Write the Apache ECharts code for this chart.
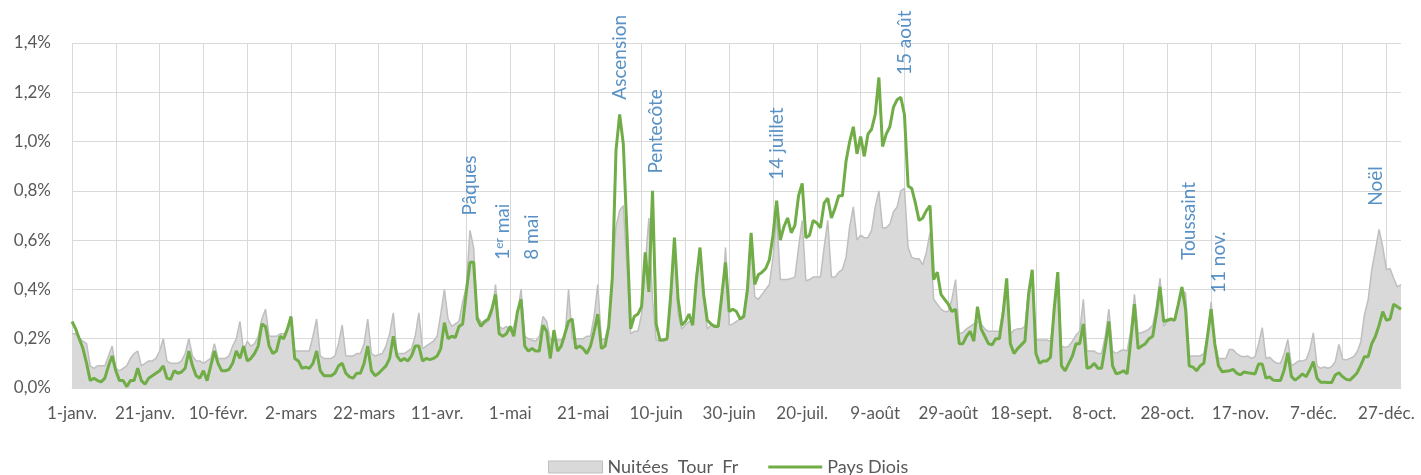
<!DOCTYPE html>
<html>
<head>
<meta charset="utf-8">
<script src="https://cdn.jsdelivr.net/npm/echarts@6/dist/echarts.min.js"></script>
<style>
  html, body { margin: 0; padding: 0; background: #fff; }
  #chart { width: 1421px; height: 475px; }
</style>
</head>
<body>
<div id="chart"></div>
<script>
// one label every 20 days, starting on 1 January
const tickLabels = ['1-janv.', '21-janv.', '10-févr.', '2-mars', '22-mars', '11-avr.', '1-mai',
  '21-mai', '10-juin', '30-juin', '20-juil.', '9-août', '29-août', '18-sept.', '8-oct.',
  '28-oct.', '17-nov.', '7-déc.', '27-déc.'];

// daily share of the year's nights, in %
const nuitees = [
  .22, .22, .20, .19, .18, .09, .08, .09, .09, .09,
  .13, .17, .08, .07, .08, .09, .12, .14, .15, .09,
  .10, .11, .11, .12, .15, .20, .11, .10, .10, .10,
  .11, .14, .20, .13, .11, .11, .10, .11, .12, .18,
  .12, .12, .12, .13, .17, .20, .27, .15, .19, .17,
  .18, .21, .28, .32, .21, .21, .21, .22, .22, .23,
  .29, .15, .15, .15, .15, .15, .21, .28, .13, .12,
  .12, .12, .13, .18, .255, .13, .13, .13, .14, .14,
  .18, .28, .14, .13, .135, .14, .17, .22, .305, .14,
  .14, .14, .15, .16, .21, .305, .16, .17, .18, .19,
  .21, .30, .40, .28, .25, .26, .27, .35, .41, .64,
  .57, .29, .27, .26, .27, .30, .42, .25, .24, .25,
  .23, .25, .30, .40, .21, .20, .195, .19, .21, .29,
  .27, .195, .195, .195, .195, .20, .40, .20, .20, .20,
  .20, .21, .21, .29, .42, .195, .20, .255, .46, .655,
  .72, .74, .49, .22, .23, .23, .30, .50, .69, .36,
  .195, .19, .19, .195, .33, .59, .30, .24, .255, .27,
  .27, .46, .55, .36, .24, .255, .255, .255, .36, .57,
  .255, .26, .27, .28, .30, .42, .60, .37, .36, .38,
  .40, .42, .53, .70, .44, .44, .44, .445, .45, .57,
  .68, .435, .44, .45, .45, .45, .57, .68, .45, .45,
  .47, .48, .53, .655, .735, .60, .62, .61, .61, .64,
  .735, .80, .65, .65, .665, .715, .735, .80, .81, .57,
  .53, .525, .525, .50, .55, .63, .36, .34, .32, .31,
  .31, .36, .44, .22, .225, .24, .25, .26, .27, .26,
  .24, .23, .23, .23, .23, .32, .42, .22, .235, .24,
  .24, .25, .40, .47, .195, .195, .195, .195, .19, .29,
  .445, .17, .165, .17, .19, .215, .23, .36, .15, .15,
  .15, .14, .14, .21, .32, .15, .14, .15, .155, .15,
  .235, .38, .22, .225, .23, .24, .255, .33, .445, .25,
  .27, .275, .275, .33, .40, .385, .13, .13, .13, .13,
  .14, .21, .35, .18, .12, .12, .12, .157, .155, .14,
  .13, .127, .13, .12, .127, .18, .245, .12, .125, .11,
  .10, .10, .14, .197, .09, .10, .11, .11, .115, .154,
  .224, .09, .08, .085, .08, .087, .107, .177, .117, .114,
  .12, .127, .147, .188, .30, .357, .48, .56, .644, .573,
  .48, .485, .445, .41, .42
];

const paysDiois = [
  .27, .24, .20, .16, .10, .03, .04, .03, .025, .04,
  .09, .13, .07, .03, .03, .005, .03, .03, .08, .03,
  .015, .04, .05, .06, .07, .09, .04, .035, .07, .06,
  .065, .08, .15, .09, .05, .04, .07, .03, .09, .15,
  .10, .07, .07, .075, .10, .15, .12, .17, .11, .12,
  .14, .17, .26, .25, .17, .14, .15, .21, .20, .24,
  .29, .12, .11, .08, .085, .08, .10, .15, .07, .05,
  .05, .05, .06, .09, .10, .06, .045, .04, .06, .06,
  .10, .17, .07, .05, .06, .075, .09, .12, .21, .13,
  .11, .12, .11, .13, .17, .17, .11, .12, .115, .12,
  .13, .16, .265, .20, .21, .205, .25, .26, .39, .51,
  .51, .28, .25, .27, .28, .32, .38, .22, .21, .22,
  .25, .21, .31, .36, .17, .15, .16, .15, .15, .255,
  .23, .12, .235, .15, .17, .22, .27, .28, .16, .17,
  .16, .14, .17, .23, .30, .16, .17, .25, .45, .965,
  1.11, .99, .63, .24, .29, .30, .33, .55, .39, .80,
  .26, .195, .195, .20, .38, .61, .36, .255, .27, .30,
  .255, .44, .57, .38, .275, .26, .25, .25, .38, .51,
  .31, .32, .31, .28, .29, .40, .63, .42, .46, .47,
  .485, .52, .62, .76, .60, .655, .69, .63, .66, .78,
  .83, .61, .62, .68, .67, .65, .75, .77, .69, .73,
  .78, .78, .92, 1.0, 1.06, .95, 1.02, .94, 1.03, 1.05,
  1.11, 1.26, .98, 1.03, 1.06, 1.14, 1.17, 1.18, 1.11, .82,
  .81, .75, .68, .69, .72, .74, .44, .47, .38, .36,
  .34, .31, .32, .18, .18, .21, .23, .19, .33, .24,
  .21, .18, .175, .20, .20, .30, .445, .18, .14, .16,
  .175, .19, .38, .48, .14, .10, .11, .11, .125, .32,
  .47, .09, .07, .10, .13, .18, .18, .26, .08, .085,
  .10, .08, .08, .17, .27, .09, .057, .062, .07, .057,
  .195, .34, .16, .17, .18, .20, .21, .30, .41, .27,
  .275, .28, .275, .34, .41, .32, .09, .085, .07, .09,
  .10, .21, .32, .18, .09, .066, .068, .07, .076, .06,
  .053, .065, .062, .06, .057, .097, .097, .04, .045, .032,
  .03, .03, .073, .143, .046, .032, .043, .057, .046, .073,
  .107, .04, .023, .023, .022, .022, .053, .062, .046, .035,
  .032, .046, .062, .093, .127, .127, .18, .21, .255, .31,
  .275, .28, .34, .33, .32
];

// holiday notes: day index and the level (%) where the text starts
const holidayNames = ['Pâques', '{n|1}{s|er}{n| mai}', '8 mai', 'Ascension', 'Pentecôte',
  '14 juillet', '15 août', 'Toussaint', '11 nov.', 'Noël'];
const holidayDays = [109, 118, 126, 150, 160, 193, 228, 306, 314, 357];
const holidayLevels = [0.70, 0.52, 0.52, 1.17, 0.87, 0.845, 1.27, 0.52, 0.385, 0.74];

const days = nuitees.map((v, i) => String(i));
const font = 'Lato, sans-serif';
const textColor = '#595959';
const green = '#70ad47';

const chart = echarts.init(document.getElementById('chart'), null, { renderer: 'canvas' });

const option = {
  animation: false,
  grid: { left: 72, right: 20, top: 43, bottom: 87 },
  legend: {
    left: 543,
    top: 453,
    itemWidth: 54,
    itemHeight: 12,
    itemGap: 30,
    textStyle: { color: textColor, fontSize: 18, fontFamily: font },
    data: [
      { name: 'Nuitées  Tour  Fr', icon: 'rect',
        itemStyle: { color: '#d9d9d9', borderColor: '#bfbfbf', borderWidth: 1 } },
      { name: 'Pays Diois', icon: 'path://M0,0 H54 V3 H0 Z',
        itemStyle: { color: green, borderWidth: 0 } }
    ]
  },
  xAxis: {
    type: 'category',
    data: days,
    boundaryGap: false,
    axisLine: { show: true, lineStyle: { color: '#d9d9d9' } },
    axisTick: { show: false },
    axisLabel: {
      interval: 19,
      margin: 17,
      color: textColor,
      fontSize: 17,
      fontFamily: font,
      formatter: (v, i) => tickLabels[i / 20]
    },
    splitLine: { show: true, interval: 11, lineStyle: { color: '#d9d9d9', width: 1 } }
  },
  yAxis: {
    type: 'value',
    min: 0,
    max: 1.4,
    interval: 0.2,
    axisLine: { show: false },
    axisTick: { show: false },
    axisLabel: {
      margin: 21,
      color: textColor,
      fontSize: 17,
      fontFamily: font,
      formatter: v => v.toFixed(1).replace('.', ',') + '%'
    },
    splitLine: { lineStyle: { color: '#d9d9d9', width: 1 } }
  },
  series: [
    {
      name: 'Nuitées  Tour  Fr',
      type: 'line',
      data: nuitees,
      symbol: 'none',
      lineStyle: { color: '#bfbfbf', width: 1.5 },
      itemStyle: { color: '#bfbfbf' },
      areaStyle: { color: '#d9d9d9', opacity: 1 },
      z: 2
    },
    {
      name: 'Pays Diois',
      type: 'line',
      data: paysDiois,
      symbol: 'none',
      lineStyle: { color: green, width: 3 },
      itemStyle: { color: green },
      z: 3
    },
    {
      name: 'notes',
      type: 'scatter',
      data: holidayDays.map((d, i) => [d, holidayLevels[i]]),
      symbolSize: 0,
      silent: true,
      z: 4,
      label: {
        show: true,
        position: [0, 0],
        rotate: 90,
        align: 'left',
        verticalAlign: 'middle',
        color: '#2e75b6',
        fontSize: 19,
        fontFamily: font,
        formatter: p => holidayNames[p.dataIndex],
        rich: {
          n: { color: '#2e75b6', fontSize: 19, fontFamily: font },
          s: { color: '#2e75b6', fontSize: 12, fontFamily: font, verticalAlign: 'top', lineHeight: 12 }
        }
      }
    }
  ]
};

chart.setOption(option);
</script>
</body>
</html>
